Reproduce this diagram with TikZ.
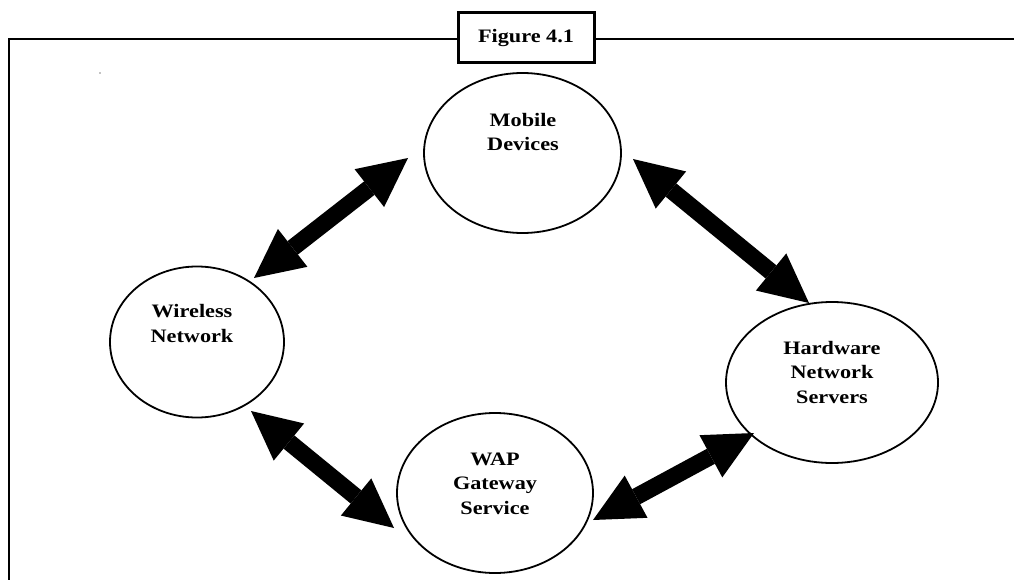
\documentclass[tikz,border=0pt]{standalone}
\usepackage{fontspec}
\setmainfont{Liberation Serif}
\usepackage{graphicx}
\usetikzlibrary{arrows.meta,calc,shapes.geometric}
\newcommand{\stretchlbl}[1]{\scalebox{1.17}[1]{\fontsize{19}{24.5}\selectfont\bfseries\begin{tabular}{@{}c@{}}#1\end{tabular}}}
\tikzset{
  bubble/.style={ellipse, draw, line width=1.8pt, inner sep=0pt, outer sep=0pt},
  lbl/.style={inner sep=0pt, outer sep=0pt, anchor=center},
  framepath/.style={line width=2.6pt},
  titlebox/.style={draw, fill=white, line width=3pt, minimum width=136pt, minimum height=50pt, inner sep=0pt},
  bigarrow/.style={line width=17pt,
    {Triangle[length=49pt,width=48pt,line width=0pt]}-{Triangle[length=49pt,width=48pt,line width=0pt]}}
}
\begin{document}
\begin{tikzpicture}[x=1pt,y=-1pt]
\useasboundingbox (0,0) rectangle (1014,580);
% frame
\draw[framepath] (9,600) -- (9,39) -- (1030,39);
\node[titlebox] (title) at (526,38) {\stretchlbl{Figure 4.1}};
% stray dot
\fill (100,73) circle[radius=0.7pt];
% ellipses
\node[bubble, minimum width=197pt, minimum height=160pt] (mob) at (522.5,153) {};
\node[bubble, minimum width=174pt, minimum height=151pt] (wir) at (197,342) {};
\node[bubble, minimum width=212pt, minimum height=161pt] (hw) at (832,382.5) {};
\node[bubble, minimum width=196pt, minimum height=160pt] (wap) at (495,493) {};
% labels
\node[lbl] (mobt) at (523,133.6) {\stretchlbl{Mobile\\Devices}};
\node[lbl] (wirt) at (192,325) {\stretchlbl{Wireless\\Network}};
\node[lbl] (hwt) at (832,373.6) {\stretchlbl{Hardware\\Network\\Servers}};
\node[lbl] (wapt) at (495,484.6) {\stretchlbl{WAP\\Gateway\\Service}};
% arrows
\draw[bigarrow] ($(wir.center)+(57,-64)$) -- ($(mob.west)+(-16,5)$);
\draw[bigarrow] ($(mob.east)+(12,6)$) -- ($(hw.center)+(-23,-79.5)$);
\draw[bigarrow] ($(wir.center)+(54,69)$) -- ($(wap.center)+(-101,35)$);
\draw[bigarrow] ($(wap.center)+(98,27)$) -- ($(hw.center)+(-78,50.5)$);
\end{tikzpicture}
\end{document}
